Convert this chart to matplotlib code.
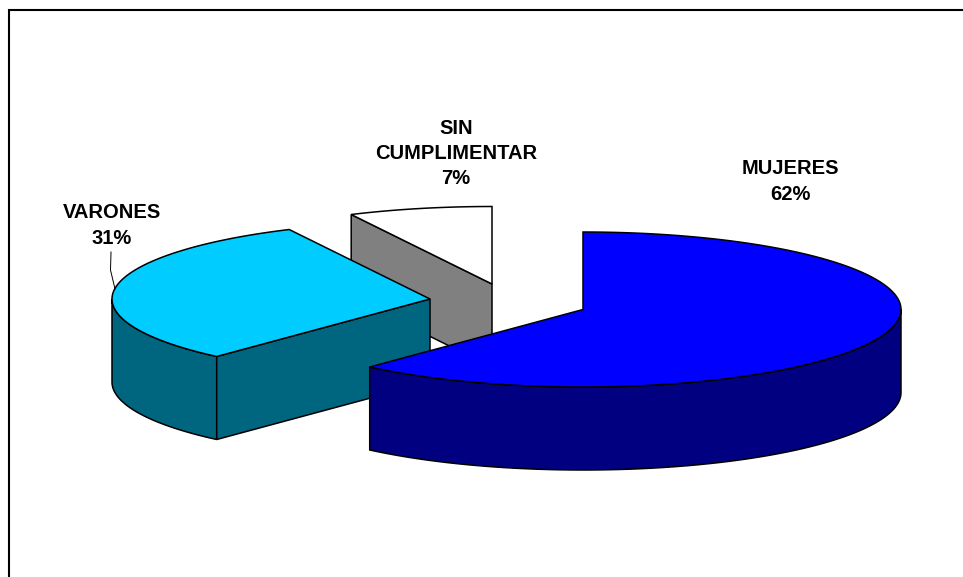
import numpy as np
import matplotlib
matplotlib.use('Agg')
from matplotlib import pyplot as plt
from matplotlib.patches import Polygon

nombres = ['MUJERES', 'VARONES', 'SIN\nCUMPLIMENTAR']
# valores estimados, las etiquetas los muestran redondeados
valores = [61.7, 31.0, 7.3]
color_top = ['#0000ff', '#00ccff', '#ffffff']
color_lado = ['#000080', '#006680', '#808080']

# centro de cada trozo (pixeles), trozos separados
centros = [(583, 309.5), (430, 299), (492, 284)]
RX = 318
RY = 77.5
ALTO = 83

plt.rcParams['font.family'] = ['Liberation Sans', 'DejaVu Sans']

fig = plt.figure(figsize=(9.63, 5.77), dpi=100)
ax = fig.add_axes([0, 0, 1, 1])
ax.set_xlim(0, 963)
ax.set_ylim(577, 0)
ax.axis('off')


def punto(c, ang):
    a = np.radians(ang)
    return c[0] + RX * np.sin(a), c[1] - RY * np.cos(a)


def arco(c, a0, a1, dy=0):
    angs = np.linspace(a0, a1, 120)
    x, y = punto(c, angs)
    return np.column_stack([x, y + dy])


def poligono(pts, color, z):
    ax.add_patch(Polygon(pts, closed=True, facecolor=color, edgecolor='black',
                         linewidth=1.1, joinstyle='miter', zorder=z))


def trozo(c, a0, a1, top, lado, z):
    # pared exterior, solo la parte que mira al frente
    v0, v1 = max(a0, 90), min(a1, 270)
    if v1 > v0:
        poligono(np.vstack([arco(c, v0, v1), arco(c, v1, v0, ALTO)]), lado, z)
    # cara de corte del lado izquierdo
    if a0 > 180:
        x, y = punto(c, a0)
        poligono([c, (x, y), (x, y + ALTO), (c[0], c[1] + ALTO)], lado, z)
    poligono(np.vstack([[c], arco(c, a0, a1)]), top, z + 0.5)


cortes = np.cumsum([0] + valores) * 360 / sum(valores)

# de atras hacia delante
for i in (2, 1, 0):
    trozo(centros[i], cortes[i], cortes[i + 1], color_top[i], color_lado[i], 3 - i)

# marco
ax.plot([963, 9, 9], [10, 10, 577], color='black', lw=1.5, solid_joinstyle='miter', zorder=5)

# etiquetas
pos_texto = [(790, 181.5), (111.5, 225.5), (456, 153.5)]
for nombre, valor, p in zip(nombres, valores, pos_texto):
    ax.text(p[0], p[1], f'{nombre}\n{valor:.0f}%', ha='center', va='center', fontsize=14.5,
            fontweight='bold', color='black', linespacing=1.4, zorder=6)

# linea guia de VARONES
ax.plot([111, 110.5, 115], [252, 270, 289], color='black', lw=0.7, zorder=6)

fig.savefig('out.png', dpi=100)
